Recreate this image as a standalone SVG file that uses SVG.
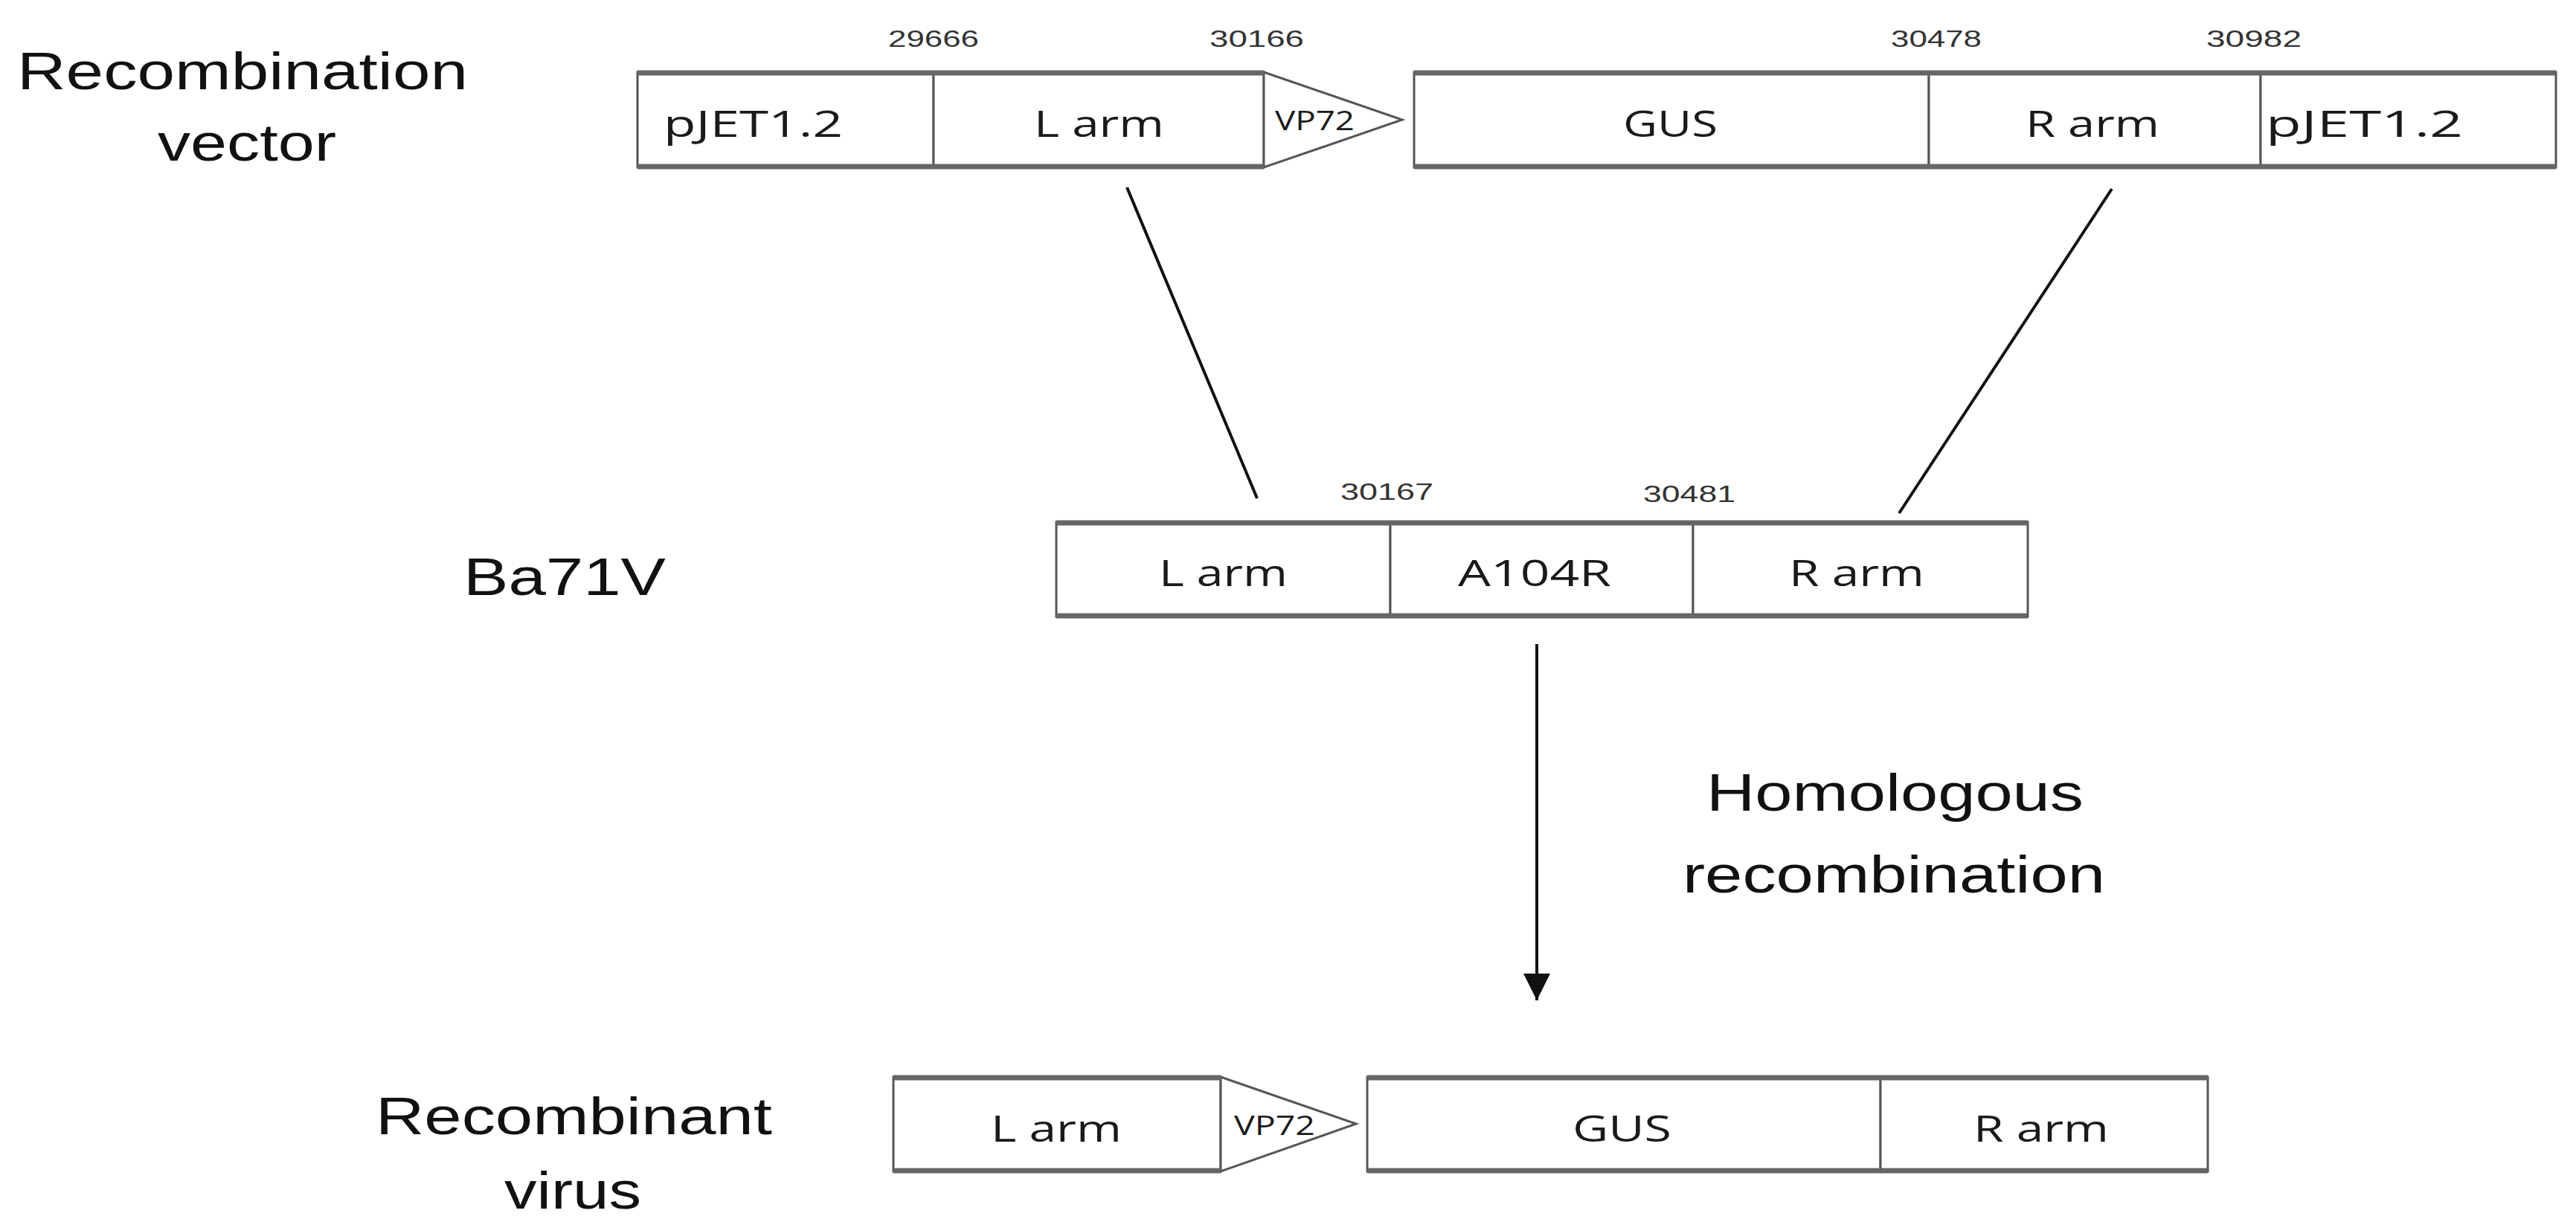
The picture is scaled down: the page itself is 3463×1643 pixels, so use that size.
<svg xmlns="http://www.w3.org/2000/svg" width="3463" height="1643" viewBox="0 0 3463 1643">
<style>
.box{fill:#fff;stroke:#555;stroke-width:3}
.hb{stroke:#666;stroke-width:7}
.lbl{font-family:"Open Sans","DejaVu Sans",sans-serif;font-size:50px;fill:#1a1a1a}
.vp{font-family:"Open Sans","DejaVu Sans",sans-serif;font-size:36px;fill:#1a1a1a}
.num{font-family:"Liberation Sans",Arial,sans-serif;font-size:31px;fill:#333}
.big{font-family:"Liberation Sans",Arial,sans-serif;font-size:70px;fill:#111}
.con{stroke:#111;stroke-width:4;fill:none}
</style>
<defs>
<marker id="ah" viewBox="0 0 10 10" refX="10" refY="5" markerWidth="9" markerHeight="18" markerUnits="strokeWidth" orient="auto">
<path d="M0,0 L10,5 L0,10 Z" fill="#111"/>
</marker>
</defs>
<rect width="3463" height="1643" fill="#fff"/>

<g id="labels">
<text class="big" x="23" y="120" textLength="606" lengthAdjust="spacingAndGlyphs">Recombination</text>
<text class="big" x="212" y="216" textLength="240" lengthAdjust="spacingAndGlyphs">vector</text>
<text class="big" x="623" y="800" textLength="272" lengthAdjust="spacingAndGlyphs">Ba71V</text>
<text class="big" x="2294" y="1090" textLength="507" lengthAdjust="spacingAndGlyphs">Homologous</text>
<text class="big" x="2262" y="1200" textLength="568" lengthAdjust="spacingAndGlyphs">recombination</text>
<text class="big" x="505" y="1525" textLength="533" lengthAdjust="spacingAndGlyphs">Recombinant</text>
<text class="big" x="678" y="1625" textLength="184" lengthAdjust="spacingAndGlyphs">virus</text>
</g>

<g id="vector">
<rect class="box" x="857" y="97" width="398" height="128"/>
<rect class="box" x="1255" y="97" width="444" height="128"/>
<polygon class="box" points="1699,97 1885,161 1699,225"/>
<rect class="box" x="1901" y="97" width="692" height="128"/>
<rect class="box" x="2593" y="97" width="446" height="128"/>
<rect class="box" x="3039" y="97" width="397" height="128"/>
<line class="hb" x1="857" y1="98" x2="1699" y2="98"/><line class="hb" x1="857" y1="224" x2="1699" y2="224"/>
<line class="hb" x1="1901" y1="98" x2="3436" y2="98"/><line class="hb" x1="1901" y1="224" x2="3436" y2="224"/>
<text class="lbl" x="892" y="184" textLength="241" lengthAdjust="spacingAndGlyphs">pJET1.2</text>
<text class="lbl" x="1390" y="184" textLength="175" lengthAdjust="spacingAndGlyphs">L arm</text>
<text class="vp" x="1714" y="175" textLength="107" lengthAdjust="spacingAndGlyphs">VP72</text>
<text class="lbl" x="2182" y="184" textLength="127" lengthAdjust="spacingAndGlyphs">GUS</text>
<text class="lbl" x="2723" y="184" textLength="180" lengthAdjust="spacingAndGlyphs">R arm</text>
<text class="lbl" x="3046" y="184" textLength="265" lengthAdjust="spacingAndGlyphs">pJET1.2</text>
<text class="num" x="1194" y="63" textLength="122" lengthAdjust="spacingAndGlyphs">29666</text>
<text class="num" x="1626" y="63" textLength="127" lengthAdjust="spacingAndGlyphs">30166</text>
<text class="num" x="2542" y="63" textLength="122" lengthAdjust="spacingAndGlyphs">30478</text>
<text class="num" x="2966" y="63" textLength="128" lengthAdjust="spacingAndGlyphs">30982</text>
</g>

<g id="ba71v">
<rect class="box" x="1420" y="702" width="449" height="127"/>
<rect class="box" x="1869" y="702" width="407" height="127"/>
<rect class="box" x="2276" y="702" width="450" height="127"/>
<line class="hb" x1="1420" y1="703" x2="2726" y2="703"/><line class="hb" x1="1420" y1="828" x2="2726" y2="828"/>
<text class="lbl" x="1558" y="788" textLength="173" lengthAdjust="spacingAndGlyphs">L arm</text>
<text class="lbl" x="1960" y="788" textLength="206" lengthAdjust="spacingAndGlyphs">A104R</text>
<text class="lbl" x="2405" y="788" textLength="182" lengthAdjust="spacingAndGlyphs">R arm</text>
<text class="num" x="1802" y="672" textLength="125" lengthAdjust="spacingAndGlyphs">30167</text>
<text class="num" x="2209" y="675" textLength="124" lengthAdjust="spacingAndGlyphs">30481</text>
</g>

<g id="recombinant">
<rect class="box" x="1201" y="1448" width="440" height="127"/>
<polygon class="box" points="1641,1448 1823,1511 1641,1575"/>
<rect class="box" x="1838" y="1448" width="690" height="127"/>
<rect class="box" x="2528" y="1448" width="440" height="127"/>
<line class="hb" x1="1201" y1="1449" x2="1641" y2="1449"/><line class="hb" x1="1201" y1="1574" x2="1641" y2="1574"/>
<line class="hb" x1="1838" y1="1449" x2="2968" y2="1449"/><line class="hb" x1="1838" y1="1574" x2="2968" y2="1574"/>
<text class="lbl" x="1332" y="1535" textLength="176" lengthAdjust="spacingAndGlyphs">L arm</text>
<text class="vp" x="1659" y="1526" textLength="109" lengthAdjust="spacingAndGlyphs">VP72</text>
<text class="lbl" x="2114" y="1535" textLength="133" lengthAdjust="spacingAndGlyphs">GUS</text>
<text class="lbl" x="2653" y="1535" textLength="182" lengthAdjust="spacingAndGlyphs">R arm</text>
</g>

<g id="connectors">
<line class="con" x1="1515" y1="252" x2="1690" y2="670"/>
<line class="con" x1="2839" y1="254" x2="2553" y2="690"/>
<line class="con" x1="2066" y1="866" x2="2066" y2="1345" marker-end="url(#ah)"/>
</g>
</svg>
